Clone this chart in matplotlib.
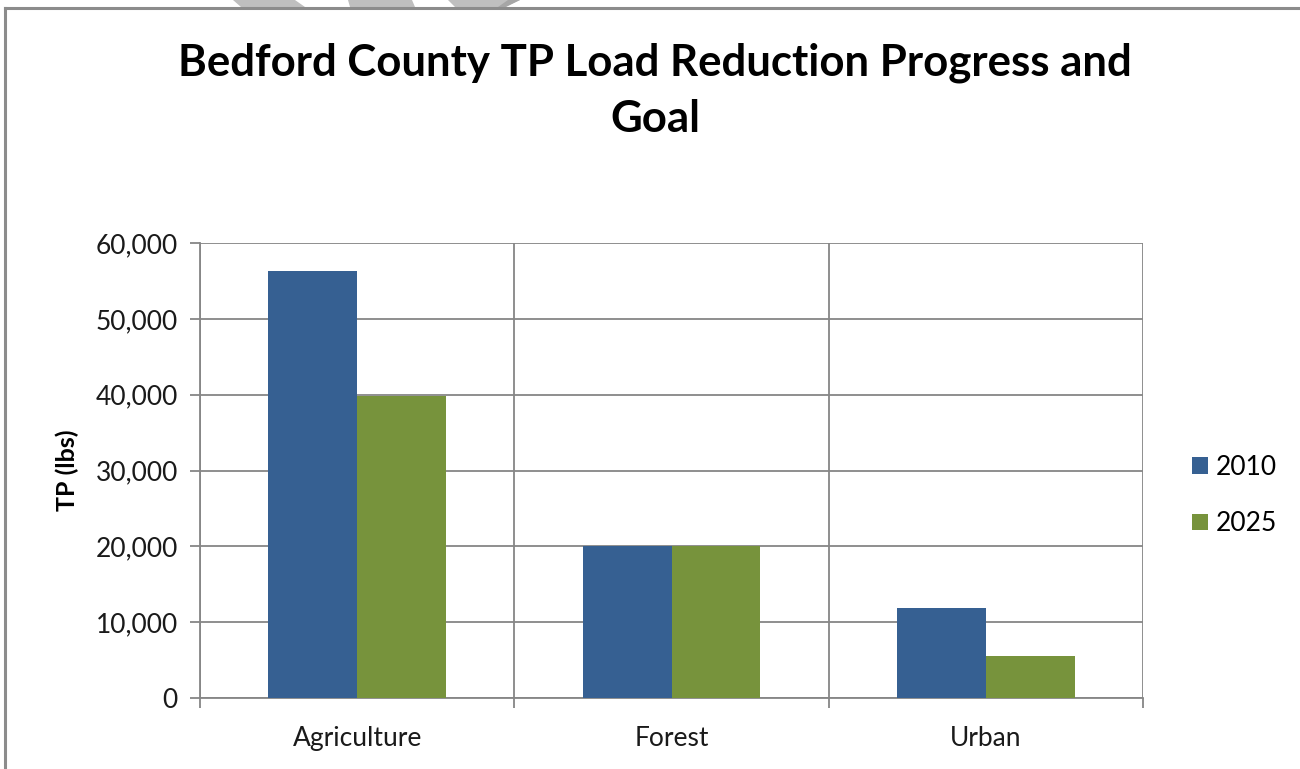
import matplotlib
matplotlib.use("Agg")
import matplotlib.pyplot as plt
import numpy as np
from matplotlib.ticker import FuncFormatter, MultipleLocator
from matplotlib.patches import Polygon

plt.rcParams['font.family'] = ['Lato', 'DejaVu Sans']

# data
categories = ['Agriculture', 'Forest', 'Urban']
series_names = ['2010', '2025']
tp_2010 = [56300, 20050, 11900]
tp_2025 = [39800, 20050, 5500]
colors = ['#366092', '#77933C']

fig = plt.figure(figsize=(13, 7.69), dpi=100)

# chart frame (only top and left edges visible in the crop)
fig.add_artist(plt.Line2D([5 / 1300, 5 / 1300], [1 - 8 / 769, 0], color='#8c8c8c', lw=2.2))
fig.add_artist(plt.Line2D([5 / 1300, 1.0], [1 - 8 / 769, 1 - 8 / 769], color='#8c8c8c', lw=2.2))

# grey shapes peeking in over the top edge
def px_poly(pts, fc):
    fig.add_artist(Polygon([(x / 1300, 1 - y / 769) for x, y in pts], closed=True,
                           fc=fc, ec='none', transform=fig.transFigure))

px_poly([(233, 0), (295, 0), (305, 7), (241, 7)], '#bfbfbf')
px_poly([(348, 0), (412, 0), (415, 7), (350, 7)], '#bfbfbf')
px_poly([(448, 0), (520, 0), (505, 7), (455, 7)], '#bfbfbf')
px_poly([(508, 0), (520, 0), (506, 7), (498, 7)], '#a6a6a6')

ax = fig.add_axes([200 / 1300, 1 - 698 / 769, 943 / 1300, 455 / 769])

x = np.arange(len(categories))
w = 0.283
ax.bar(x - w / 2, tp_2010, w, color=colors[0], label=series_names[0], zorder=3)
ax.bar(x + w / 2, tp_2025, w, color=colors[1], label=series_names[1], zorder=3)

ax.set_xlim(-0.5, len(categories) - 0.5)
ax.set_ylim(0, 60000)
ax.yaxis.set_major_locator(MultipleLocator(10000))
ax.yaxis.set_major_formatter(FuncFormatter(lambda v, p: f'{int(v):,}'))

ax.set_xticks(x)
ax.set_xticklabels(categories, fontsize=19, color='#1a1a1a')
ax.set_xticks(np.arange(-0.5, len(categories)), minor=True)
ax.tick_params(axis='x', which='major', length=0, pad=20)
ax.tick_params(axis='x', which='minor', length=7, width=1.3, color='#868686')
ax.tick_params(axis='y', which='major', length=7, width=1.3, color='#868686',
               labelsize=19, labelcolor='#1a1a1a', pad=9)

ax.grid(axis='y', color='#868686', lw=1.3, zorder=0)
ax.grid(axis='x', which='minor', color='#868686', lw=1.3, zorder=0)
for s in ['top', 'right']:
    ax.spines[s].set_visible(False)
for s in ['left', 'bottom']:
    ax.spines[s].set_color('#868686')
    ax.spines[s].set_linewidth(1.3)

ax.set_ylabel('TP (lbs)', fontsize=18, fontweight='bold', labelpad=12)

fig.text(655 / 1300, 1 - 91 / 769, 'Bedford County TP Load Reduction Progress and\nGoal',
         ha='center', va='center', fontsize=31.5, fontweight='bold', linespacing=1.5)

leg = ax.legend(loc='center left', bbox_to_anchor=(1.027, 0.445), frameon=False,
                fontsize=19, handlelength=0.6, handleheight=0.6, labelspacing=1.2,
                handletextpad=0.3)

fig.savefig('out.png', dpi=100)
